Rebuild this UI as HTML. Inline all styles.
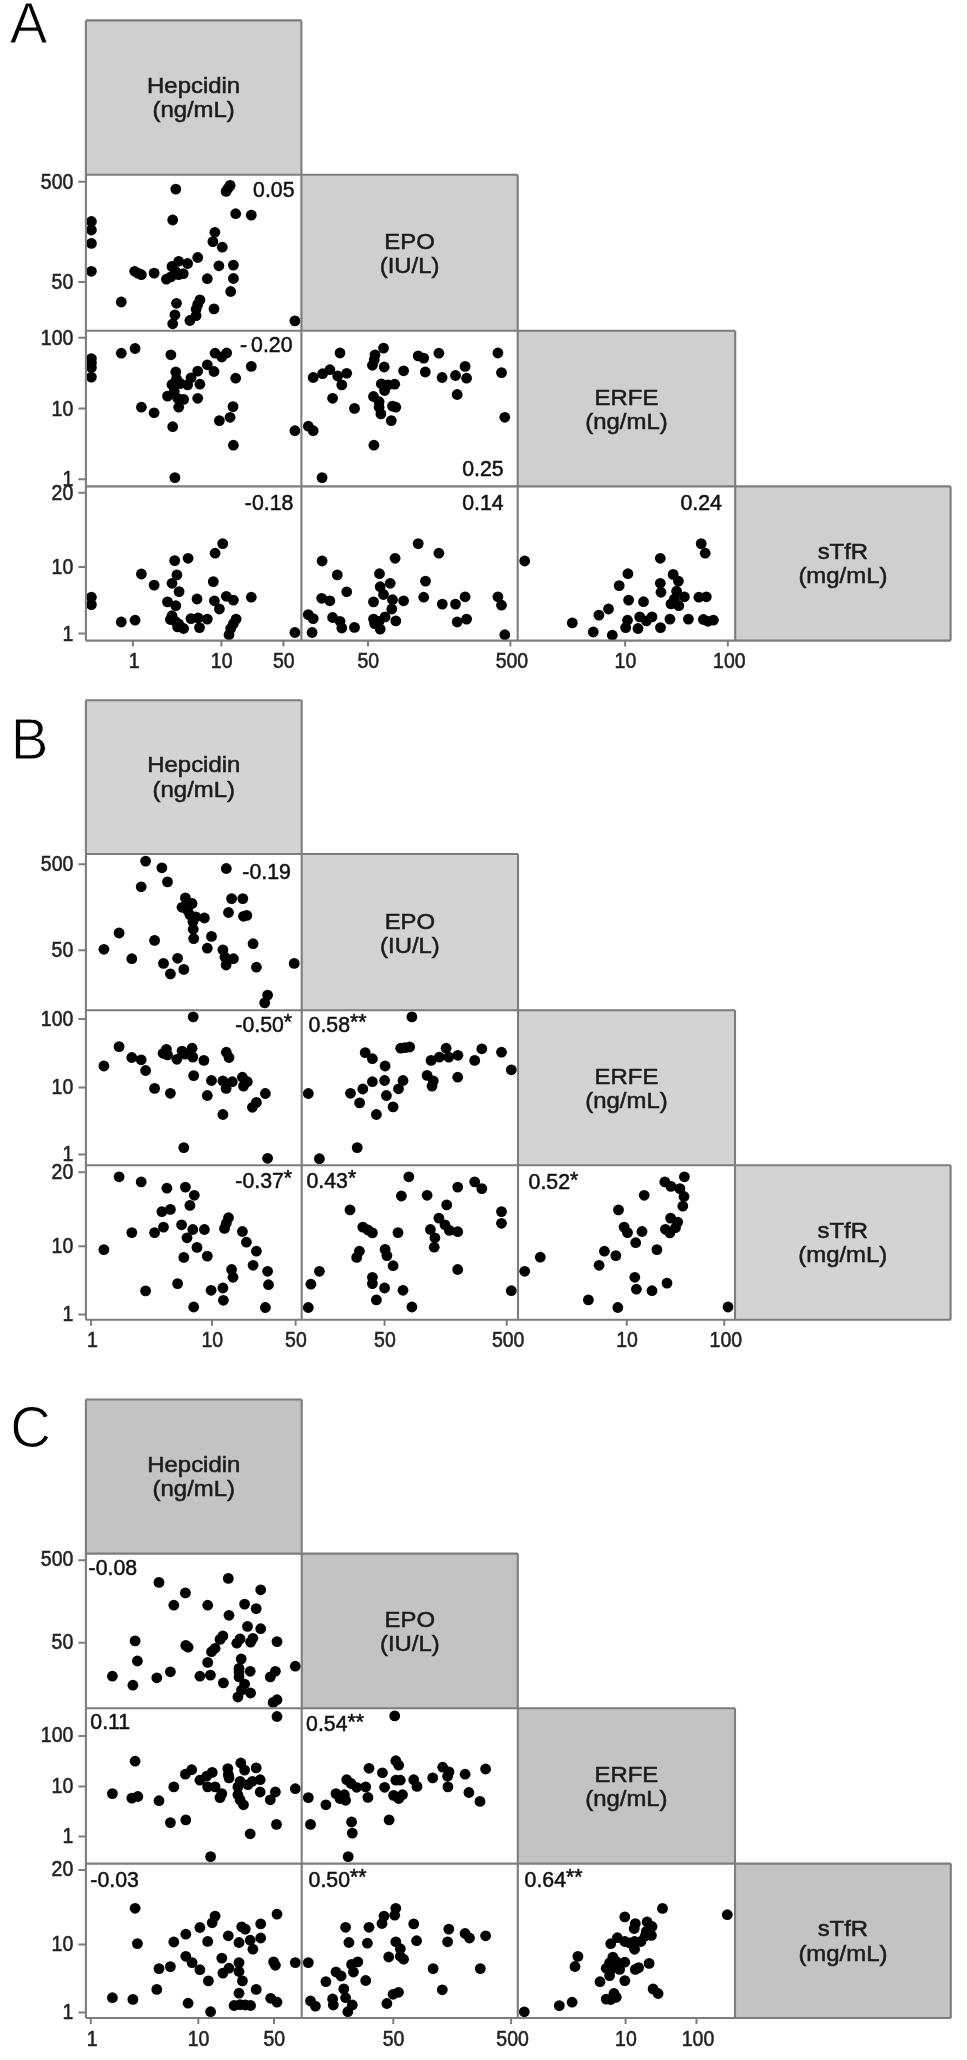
<!DOCTYPE html>
<html lang="en"><head><meta charset="utf-8"><title>Figure</title>
<style>
html,body{margin:0;padding:0;background:#fff}
svg{display:block}
text{font-family:"Liberation Sans",Arial,sans-serif;fill:#222}
.ax{font-size:19.5px;stroke:#222;stroke-width:.5px}
.cr{font-size:21.3px;fill:#111;stroke:#111;stroke-width:.5px}
.nm{font-size:23px;text-anchor:middle;fill:#1c1c1c;stroke:#1c1c1c;stroke-width:.55px}
.lt{font-size:56.5px;fill:#000;stroke:#fff;stroke-width:.9px}
.ln{stroke:#7d7d7d;stroke-width:2.1;fill:none}
.tk{stroke:#7d7d7d;stroke-width:2;fill:none}
circle{fill:#000}
</style></head>
<body>
<svg width="967" height="2060" viewBox="0 0 967 2060">
<defs><filter id="soft" x="0" y="0" width="100%" height="100%" filterUnits="userSpaceOnUse" color-interpolation-filters="sRGB"><feGaussianBlur stdDeviation="0.7"/></filter></defs>
<rect width="967" height="2060" fill="#fff"/>
<g filter="url(#soft)">
<g id="panelA">
<g><circle cx="175.8" cy="189.1" r="5.4"/><circle cx="230.1" cy="185.4" r="5.4"/><circle cx="228.1" cy="188.3" r="5.4"/><circle cx="226.1" cy="191.4" r="5.4"/><circle cx="235.7" cy="213.7" r="5.4"/><circle cx="251.3" cy="215.1" r="5.4"/><circle cx="172.7" cy="220.0" r="5.4"/><circle cx="91.4" cy="221.5" r="5.4"/><circle cx="91.4" cy="230.0" r="5.4"/><circle cx="91.4" cy="243.4" r="5.4"/><circle cx="91.4" cy="271.3" r="5.4"/><circle cx="214.9" cy="232.3" r="5.4"/><circle cx="212.9" cy="241.6" r="5.4"/><circle cx="222.3" cy="247.2" r="5.4"/><circle cx="197.7" cy="257.5" r="5.4"/><circle cx="178.7" cy="261.3" r="5.4"/><circle cx="187.6" cy="263.5" r="5.4"/><circle cx="172.0" cy="266.4" r="5.4"/><circle cx="175.3" cy="271.3" r="5.4"/><circle cx="183.2" cy="273.6" r="5.4"/><circle cx="166.4" cy="279.2" r="5.4"/><circle cx="170.9" cy="276.9" r="5.4"/><circle cx="178.7" cy="274.7" r="5.4"/><circle cx="218.9" cy="265.8" r="5.4"/><circle cx="233.4" cy="265.1" r="5.4"/><circle cx="233.4" cy="278.5" r="5.4"/><circle cx="207.3" cy="278.7" r="5.4"/><circle cx="134.7" cy="271.3" r="5.4"/><circle cx="137.8" cy="273.1" r="5.4"/><circle cx="141.4" cy="274.7" r="5.4"/><circle cx="154.1" cy="273.1" r="5.4"/><circle cx="230.7" cy="291.5" r="5.4"/><circle cx="121.3" cy="302.0" r="5.4"/><circle cx="176.5" cy="303.3" r="5.4"/><circle cx="199.9" cy="299.9" r="5.4"/><circle cx="197.7" cy="304.4" r="5.4"/><circle cx="196.1" cy="309.3" r="5.4"/><circle cx="196.1" cy="315.6" r="5.4"/><circle cx="189.9" cy="320.5" r="5.4"/><circle cx="214.0" cy="308.9" r="5.4"/><circle cx="174.9" cy="314.9" r="5.4"/><circle cx="172.7" cy="323.8" r="5.4"/><circle cx="294.9" cy="320.9" r="5.4"/></g>
<g><circle cx="91.4" cy="358.6" r="5.4"/><circle cx="91.4" cy="363.0" r="5.4"/><circle cx="91.4" cy="367.5" r="5.4"/><circle cx="91.4" cy="377.1" r="5.4"/><circle cx="121.3" cy="353.2" r="5.4"/><circle cx="135.1" cy="348.5" r="5.4"/><circle cx="170.9" cy="354.8" r="5.4"/><circle cx="215.1" cy="353.2" r="5.4"/><circle cx="226.7" cy="353.0" r="5.4"/><circle cx="221.8" cy="357.0" r="5.4"/><circle cx="207.3" cy="364.8" r="5.4"/><circle cx="214.0" cy="371.5" r="5.4"/><circle cx="251.3" cy="366.4" r="5.4"/><circle cx="235.7" cy="378.2" r="5.4"/><circle cx="175.8" cy="372.0" r="5.4"/><circle cx="176.5" cy="378.7" r="5.4"/><circle cx="172.0" cy="384.5" r="5.4"/><circle cx="174.2" cy="391.2" r="5.4"/><circle cx="167.5" cy="396.1" r="5.4"/><circle cx="177.6" cy="398.3" r="5.4"/><circle cx="183.6" cy="399.4" r="5.4"/><circle cx="178.7" cy="407.2" r="5.4"/><circle cx="197.7" cy="371.1" r="5.4"/><circle cx="191.0" cy="377.8" r="5.4"/><circle cx="187.6" cy="384.9" r="5.4"/><circle cx="199.9" cy="384.2" r="5.4"/><circle cx="197.7" cy="398.3" r="5.4"/><circle cx="141.4" cy="407.2" r="5.4"/><circle cx="154.1" cy="412.8" r="5.4"/><circle cx="233.0" cy="406.6" r="5.4"/><circle cx="230.1" cy="417.3" r="5.4"/><circle cx="219.4" cy="420.6" r="5.4"/><circle cx="172.7" cy="426.7" r="5.4"/><circle cx="294.9" cy="430.7" r="5.4"/><circle cx="233.4" cy="445.2" r="5.4"/><circle cx="174.9" cy="477.6" r="5.4"/><circle cx="180.3" cy="383.5" r="5.4"/></g>
<g><circle cx="340.0" cy="353.0" r="5.4"/><circle cx="383.5" cy="348.1" r="5.4"/><circle cx="375.0" cy="354.8" r="5.4"/><circle cx="372.4" cy="365.3" r="5.4"/><circle cx="384.2" cy="367.0" r="5.4"/><circle cx="418.2" cy="355.9" r="5.4"/><circle cx="423.7" cy="358.1" r="5.4"/><circle cx="438.9" cy="353.2" r="5.4"/><circle cx="497.9" cy="353.0" r="5.4"/><circle cx="501.5" cy="372.6" r="5.4"/><circle cx="465.1" cy="366.4" r="5.4"/><circle cx="466.6" cy="378.2" r="5.4"/><circle cx="455.5" cy="375.5" r="5.4"/><circle cx="442.1" cy="377.5" r="5.4"/><circle cx="425.3" cy="372.0" r="5.4"/><circle cx="403.6" cy="370.8" r="5.4"/><circle cx="313.2" cy="377.5" r="5.4"/><circle cx="322.6" cy="373.7" r="5.4"/><circle cx="329.9" cy="369.7" r="5.4"/><circle cx="337.7" cy="376.0" r="5.4"/><circle cx="346.7" cy="373.3" r="5.4"/><circle cx="341.8" cy="384.9" r="5.4"/><circle cx="381.3" cy="383.8" r="5.4"/><circle cx="388.0" cy="384.9" r="5.4"/><circle cx="394.7" cy="384.2" r="5.4"/><circle cx="384.6" cy="390.5" r="5.4"/><circle cx="373.5" cy="396.5" r="5.4"/><circle cx="379.1" cy="401.7" r="5.4"/><circle cx="379.1" cy="407.2" r="5.4"/><circle cx="380.9" cy="413.9" r="5.4"/><circle cx="392.5" cy="406.1" r="5.4"/><circle cx="395.8" cy="407.2" r="5.4"/><circle cx="391.3" cy="420.6" r="5.4"/><circle cx="332.6" cy="398.3" r="5.4"/><circle cx="354.5" cy="408.4" r="5.4"/><circle cx="457.2" cy="394.5" r="5.4"/><circle cx="504.8" cy="417.3" r="5.4"/><circle cx="308.3" cy="426.2" r="5.4"/><circle cx="313.2" cy="430.7" r="5.4"/><circle cx="373.9" cy="445.2" r="5.4"/><circle cx="322.1" cy="477.6" r="5.4"/><circle cx="374.2" cy="359.9" r="5.4"/></g>
<g><circle cx="222.7" cy="543.6" r="5.4"/><circle cx="215.1" cy="553.2" r="5.4"/><circle cx="188.1" cy="558.3" r="5.4"/><circle cx="174.7" cy="560.6" r="5.4"/><circle cx="141.4" cy="574.0" r="5.4"/><circle cx="154.1" cy="585.1" r="5.4"/><circle cx="176.9" cy="574.9" r="5.4"/><circle cx="172.0" cy="583.3" r="5.4"/><circle cx="179.1" cy="591.6" r="5.4"/><circle cx="213.3" cy="581.6" r="5.4"/><circle cx="91.4" cy="597.2" r="5.4"/><circle cx="91.4" cy="604.6" r="5.4"/><circle cx="251.3" cy="597.2" r="5.4"/><circle cx="226.3" cy="596.3" r="5.4"/><circle cx="233.4" cy="600.1" r="5.4"/><circle cx="197.0" cy="599.0" r="5.4"/><circle cx="214.4" cy="600.8" r="5.4"/><circle cx="219.4" cy="609.0" r="5.4"/><circle cx="167.5" cy="601.9" r="5.4"/><circle cx="175.8" cy="605.7" r="5.4"/><circle cx="172.0" cy="615.7" r="5.4"/><circle cx="170.4" cy="619.5" r="5.4"/><circle cx="175.3" cy="621.3" r="5.4"/><circle cx="178.7" cy="624.0" r="5.4"/><circle cx="183.6" cy="628.5" r="5.4"/><circle cx="177.6" cy="626.9" r="5.4"/><circle cx="191.0" cy="618.6" r="5.4"/><circle cx="198.1" cy="618.0" r="5.4"/><circle cx="207.3" cy="619.1" r="5.4"/><circle cx="199.5" cy="627.6" r="5.4"/><circle cx="236.1" cy="619.1" r="5.4"/><circle cx="233.4" cy="623.6" r="5.4"/><circle cx="230.7" cy="628.5" r="5.4"/><circle cx="229.0" cy="634.7" r="5.4"/><circle cx="121.3" cy="622.0" r="5.4"/><circle cx="135.1" cy="620.2" r="5.4"/><circle cx="294.9" cy="632.5" r="5.4"/></g>
<g><circle cx="418.2" cy="543.6" r="5.4"/><circle cx="438.9" cy="553.2" r="5.4"/><circle cx="395.1" cy="558.3" r="5.4"/><circle cx="322.1" cy="561.0" r="5.4"/><circle cx="337.3" cy="574.9" r="5.4"/><circle cx="379.5" cy="573.7" r="5.4"/><circle cx="390.2" cy="583.3" r="5.4"/><circle cx="380.2" cy="586.7" r="5.4"/><circle cx="383.5" cy="594.5" r="5.4"/><circle cx="425.5" cy="581.1" r="5.4"/><circle cx="423.7" cy="597.2" r="5.4"/><circle cx="346.7" cy="591.8" r="5.4"/><circle cx="321.7" cy="598.3" r="5.4"/><circle cx="329.9" cy="600.8" r="5.4"/><circle cx="373.5" cy="601.9" r="5.4"/><circle cx="392.5" cy="599.7" r="5.4"/><circle cx="403.6" cy="600.8" r="5.4"/><circle cx="391.8" cy="609.0" r="5.4"/><circle cx="465.1" cy="596.8" r="5.4"/><circle cx="455.5" cy="604.1" r="5.4"/><circle cx="442.3" cy="604.1" r="5.4"/><circle cx="497.9" cy="596.8" r="5.4"/><circle cx="501.5" cy="605.2" r="5.4"/><circle cx="308.3" cy="614.6" r="5.4"/><circle cx="313.2" cy="618.6" r="5.4"/><circle cx="332.6" cy="617.5" r="5.4"/><circle cx="340.0" cy="621.3" r="5.4"/><circle cx="341.8" cy="628.0" r="5.4"/><circle cx="354.5" cy="627.4" r="5.4"/><circle cx="373.5" cy="619.1" r="5.4"/><circle cx="379.1" cy="621.3" r="5.4"/><circle cx="385.1" cy="616.9" r="5.4"/><circle cx="380.2" cy="629.1" r="5.4"/><circle cx="374.6" cy="623.6" r="5.4"/><circle cx="395.8" cy="620.9" r="5.4"/><circle cx="466.6" cy="619.1" r="5.4"/><circle cx="457.2" cy="622.0" r="5.4"/><circle cx="312.1" cy="632.5" r="5.4"/><circle cx="504.8" cy="634.7" r="5.4"/></g>
<g><circle cx="701.2" cy="543.6" r="5.4"/><circle cx="705.2" cy="553.2" r="5.4"/><circle cx="660.3" cy="558.3" r="5.4"/><circle cx="524.7" cy="561.0" r="5.4"/><circle cx="627.9" cy="573.7" r="5.4"/><circle cx="619.2" cy="585.6" r="5.4"/><circle cx="673.2" cy="574.4" r="5.4"/><circle cx="678.4" cy="581.1" r="5.4"/><circle cx="660.3" cy="583.3" r="5.4"/><circle cx="661.0" cy="592.3" r="5.4"/><circle cx="676.6" cy="591.2" r="5.4"/><circle cx="684.4" cy="596.8" r="5.4"/><circle cx="674.4" cy="599.0" r="5.4"/><circle cx="671.0" cy="603.9" r="5.4"/><circle cx="678.8" cy="605.7" r="5.4"/><circle cx="698.9" cy="597.2" r="5.4"/><circle cx="706.3" cy="596.8" r="5.4"/><circle cx="628.6" cy="600.1" r="5.4"/><circle cx="643.5" cy="601.7" r="5.4"/><circle cx="608.5" cy="609.0" r="5.4"/><circle cx="598.9" cy="615.1" r="5.4"/><circle cx="572.3" cy="622.9" r="5.4"/><circle cx="627.5" cy="620.2" r="5.4"/><circle cx="625.7" cy="627.6" r="5.4"/><circle cx="639.7" cy="616.9" r="5.4"/><circle cx="646.4" cy="620.9" r="5.4"/><circle cx="652.0" cy="616.9" r="5.4"/><circle cx="638.0" cy="628.5" r="5.4"/><circle cx="669.9" cy="619.1" r="5.4"/><circle cx="660.5" cy="627.6" r="5.4"/><circle cx="688.4" cy="619.1" r="5.4"/><circle cx="703.4" cy="619.5" r="5.4"/><circle cx="707.9" cy="621.3" r="5.4"/><circle cx="713.4" cy="620.2" r="5.4"/><circle cx="593.3" cy="632.0" r="5.4"/><circle cx="612.3" cy="635.2" r="5.4"/></g>
<rect x="85.9" y="20.4" width="215.5" height="154.3" fill="#cfcfcf"/>
<rect x="301.4" y="174.7" width="216.3" height="156.0" fill="#cfcfcf"/>
<rect x="517.7" y="330.7" width="217.5" height="155.7" fill="#cfcfcf"/>
<rect x="735.2" y="486.4" width="215.4" height="154.2" fill="#cfcfcf"/>
<path class="ln" d="M85.9 20.4V640.6M85.9 640.6H950.6M85.9 20.4H301.4M301.4 20.4V640.6M85.9 174.7H517.7M517.7 174.7V640.6M85.9 330.7H735.2M735.2 330.7V640.6M85.9 486.4H950.6M950.6 486.4V640.6"/>
<path class="tk" d="M78.4 181.7H85.9M78.4 281.9H85.9M78.4 337.8H85.9M78.4 408.5H85.9M78.4 479.2H85.9M78.4 492.8H85.9M78.4 566.9H85.9M78.4 633.6H85.9M132.9 640.6V646.6M221.4 640.6V646.6M283.5 640.6V646.6M368.0 640.6V646.6M510.4 640.6V646.6M625.1 640.6V646.6M727.8 640.6V646.6"/>
<text class="ax" transform="translate(73.3 188.7) scale(1 1.14)" text-anchor="end">500</text>
<text class="ax" transform="translate(73.3 288.9) scale(1 1.14)" text-anchor="end">50</text>
<text class="ax" transform="translate(73.3 344.8) scale(1 1.14)" text-anchor="end">100</text>
<text class="ax" transform="translate(73.3 415.5) scale(1 1.14)" text-anchor="end">10</text>
<text class="ax" transform="translate(73.3 486.2) scale(1 1.14)" text-anchor="end">1</text>
<text class="ax" transform="translate(73.3 499.8) scale(1 1.14)" text-anchor="end">20</text>
<text class="ax" transform="translate(73.3 573.9) scale(1 1.14)" text-anchor="end">10</text>
<text class="ax" transform="translate(73.3 640.6) scale(1 1.14)" text-anchor="end">1</text>
<text class="ax" transform="translate(134.2 667.5) scale(1 1.14)" text-anchor="middle">1</text>
<text class="ax" transform="translate(221.7 667.5) scale(1 1.14)" text-anchor="middle">10</text>
<text class="ax" transform="translate(283.8 667.5) scale(1 1.14)" text-anchor="middle">50</text>
<text class="ax" transform="translate(368.3 667.5) scale(1 1.14)" text-anchor="middle">50</text>
<text class="ax" transform="translate(511.9 667.5) scale(1 1.14)" text-anchor="middle">500</text>
<text class="ax" transform="translate(625.4 667.5) scale(1 1.14)" text-anchor="middle">10</text>
<text class="ax" transform="translate(729.3 667.5) scale(1 1.14)" text-anchor="middle">100</text>
<text class="nm" transform="translate(193.6 93.0) scale(1.04 0.985)">Hepcidin</text>
<text class="nm" transform="translate(193.6 117.3) scale(1.04 0.985)">(ng/mL)</text>
<text class="nm" transform="translate(409.6 249.0) scale(1.04 0.985)">EPO</text>
<text class="nm" transform="translate(409.6 273.3) scale(1.04 0.985)">(IU/L)</text>
<text class="nm" transform="translate(626.5 404.7) scale(1.04 0.985)">ERFE</text>
<text class="nm" transform="translate(626.5 429.0) scale(1.04 0.985)">(ng/mL)</text>
<text class="nm" transform="translate(842.9 558.9) scale(1.04 0.985)">sTfR</text>
<text class="nm" transform="translate(842.9 583.2) scale(1.04 0.985)">(mg/mL)</text>
<text class="cr" transform="translate(253.1 196.5) scale(1 1.03)" text-anchor="start">0.05</text>
<text class="cr" transform="translate(240.0 352.4) scale(1 1.03)" text-anchor="start">-</text>
<text class="cr" transform="translate(251.1 352.4) scale(1 1.03)" text-anchor="start">0.20</text>
<text class="cr" transform="translate(462.2 476.0) scale(1 1.03)" text-anchor="start">0.25</text>
<text class="cr" transform="translate(244.8 509.7) scale(1 1.03)" text-anchor="start">-0.18</text>
<text class="cr" transform="translate(462.2 510.0) scale(1 1.03)" text-anchor="start">0.14</text>
<text class="cr" transform="translate(680.4 509.7) scale(1 1.03)" text-anchor="start">0.24</text>
<text class="lt" x="9.8" y="43.2">A</text>
</g>
<g id="panelB">
<g><circle cx="145.6" cy="861.1" r="5.4"/><circle cx="161.9" cy="867.8" r="5.4"/><circle cx="167.5" cy="881.9" r="5.4"/><circle cx="141.2" cy="886.8" r="5.4"/><circle cx="226.3" cy="868.5" r="5.4"/><circle cx="231.6" cy="898.6" r="5.4"/><circle cx="242.8" cy="898.6" r="5.4"/><circle cx="228.5" cy="912.5" r="5.4"/><circle cx="243.5" cy="916.3" r="5.4"/><circle cx="246.8" cy="915.4" r="5.4"/><circle cx="185.4" cy="897.9" r="5.4"/><circle cx="192.1" cy="903.5" r="5.4"/><circle cx="182.0" cy="907.3" r="5.4"/><circle cx="187.6" cy="910.2" r="5.4"/><circle cx="189.9" cy="914.7" r="5.4"/><circle cx="195.9" cy="916.9" r="5.4"/><circle cx="204.4" cy="918.0" r="5.4"/><circle cx="193.2" cy="929.2" r="5.4"/><circle cx="193.7" cy="938.6" r="5.4"/><circle cx="211.5" cy="936.4" r="5.4"/><circle cx="207.3" cy="948.2" r="5.4"/><circle cx="222.9" cy="949.8" r="5.4"/><circle cx="224.9" cy="957.1" r="5.4"/><circle cx="233.4" cy="958.7" r="5.4"/><circle cx="226.1" cy="965.0" r="5.4"/><circle cx="253.1" cy="943.7" r="5.4"/><circle cx="256.4" cy="967.2" r="5.4"/><circle cx="294.2" cy="963.4" r="5.4"/><circle cx="119.1" cy="933.0" r="5.4"/><circle cx="103.9" cy="949.3" r="5.4"/><circle cx="131.8" cy="958.7" r="5.4"/><circle cx="154.6" cy="940.4" r="5.4"/><circle cx="177.6" cy="958.3" r="5.4"/><circle cx="163.5" cy="963.4" r="5.4"/><circle cx="183.8" cy="969.4" r="5.4"/><circle cx="170.4" cy="973.9" r="5.4"/><circle cx="267.6" cy="995.1" r="5.4"/><circle cx="264.7" cy="1002.9" r="5.4"/><circle cx="186.7" cy="907.9" r="5.4"/><circle cx="192.9" cy="921.6" r="5.4"/></g>
<g><circle cx="193.2" cy="1016.9" r="5.4"/><circle cx="119.1" cy="1046.6" r="5.4"/><circle cx="103.9" cy="1066.0" r="5.4"/><circle cx="131.8" cy="1057.5" r="5.4"/><circle cx="141.2" cy="1059.8" r="5.4"/><circle cx="145.6" cy="1070.5" r="5.4"/><circle cx="166.4" cy="1049.3" r="5.4"/><circle cx="163.1" cy="1053.3" r="5.4"/><circle cx="167.5" cy="1054.9" r="5.4"/><circle cx="176.9" cy="1059.3" r="5.4"/><circle cx="182.0" cy="1051.1" r="5.4"/><circle cx="185.4" cy="1054.2" r="5.4"/><circle cx="192.1" cy="1048.2" r="5.4"/><circle cx="192.8" cy="1057.1" r="5.4"/><circle cx="203.9" cy="1060.4" r="5.4"/><circle cx="226.3" cy="1052.2" r="5.4"/><circle cx="229.0" cy="1057.5" r="5.4"/><circle cx="193.7" cy="1075.6" r="5.4"/><circle cx="211.5" cy="1080.5" r="5.4"/><circle cx="222.9" cy="1081.0" r="5.4"/><circle cx="226.1" cy="1088.4" r="5.4"/><circle cx="232.3" cy="1081.7" r="5.4"/><circle cx="242.4" cy="1077.2" r="5.4"/><circle cx="247.3" cy="1081.7" r="5.4"/><circle cx="243.5" cy="1086.1" r="5.4"/><circle cx="154.6" cy="1088.4" r="5.4"/><circle cx="170.4" cy="1093.3" r="5.4"/><circle cx="207.3" cy="1095.5" r="5.4"/><circle cx="265.4" cy="1093.5" r="5.4"/><circle cx="256.4" cy="1102.4" r="5.4"/><circle cx="252.4" cy="1107.3" r="5.4"/><circle cx="222.9" cy="1114.5" r="5.4"/><circle cx="183.8" cy="1147.6" r="5.4"/><circle cx="267.6" cy="1158.3" r="5.4"/></g>
<g><circle cx="411.9" cy="1016.9" r="5.4"/><circle cx="400.7" cy="1048.2" r="5.4"/><circle cx="405.2" cy="1047.7" r="5.4"/><circle cx="409.7" cy="1047.0" r="5.4"/><circle cx="365.2" cy="1052.6" r="5.4"/><circle cx="372.4" cy="1058.7" r="5.4"/><circle cx="385.1" cy="1066.0" r="5.4"/><circle cx="446.1" cy="1048.2" r="5.4"/><circle cx="439.4" cy="1057.1" r="5.4"/><circle cx="431.1" cy="1060.4" r="5.4"/><circle cx="448.8" cy="1057.1" r="5.4"/><circle cx="457.9" cy="1055.3" r="5.4"/><circle cx="481.8" cy="1048.8" r="5.4"/><circle cx="474.7" cy="1060.4" r="5.4"/><circle cx="501.5" cy="1052.2" r="5.4"/><circle cx="511.3" cy="1069.8" r="5.4"/><circle cx="457.7" cy="1077.2" r="5.4"/><circle cx="427.1" cy="1075.4" r="5.4"/><circle cx="433.3" cy="1081.0" r="5.4"/><circle cx="432.0" cy="1086.1" r="5.4"/><circle cx="403.0" cy="1080.5" r="5.4"/><circle cx="398.5" cy="1088.8" r="5.4"/><circle cx="384.6" cy="1080.5" r="5.4"/><circle cx="372.4" cy="1081.7" r="5.4"/><circle cx="362.8" cy="1089.0" r="5.4"/><circle cx="350.5" cy="1093.3" r="5.4"/><circle cx="359.6" cy="1102.9" r="5.4"/><circle cx="386.4" cy="1095.5" r="5.4"/><circle cx="393.1" cy="1106.9" r="5.4"/><circle cx="376.4" cy="1114.5" r="5.4"/><circle cx="308.3" cy="1093.5" r="5.4"/><circle cx="357.2" cy="1147.6" r="5.4"/><circle cx="319.4" cy="1158.7" r="5.4"/></g>
<g><circle cx="119.1" cy="1176.8" r="5.4"/><circle cx="141.2" cy="1181.9" r="5.4"/><circle cx="166.9" cy="1188.2" r="5.4"/><circle cx="185.4" cy="1187.1" r="5.4"/><circle cx="194.3" cy="1195.3" r="5.4"/><circle cx="189.9" cy="1205.4" r="5.4"/><circle cx="161.9" cy="1211.6" r="5.4"/><circle cx="170.4" cy="1209.4" r="5.4"/><circle cx="228.5" cy="1217.7" r="5.4"/><circle cx="226.3" cy="1223.3" r="5.4"/><circle cx="224.5" cy="1228.4" r="5.4"/><circle cx="181.6" cy="1224.8" r="5.4"/><circle cx="192.8" cy="1229.5" r="5.4"/><circle cx="204.4" cy="1229.5" r="5.4"/><circle cx="187.0" cy="1237.8" r="5.4"/><circle cx="163.5" cy="1227.1" r="5.4"/><circle cx="154.6" cy="1232.6" r="5.4"/><circle cx="131.8" cy="1232.6" r="5.4"/><circle cx="103.9" cy="1249.6" r="5.4"/><circle cx="242.4" cy="1231.5" r="5.4"/><circle cx="246.4" cy="1242.2" r="5.4"/><circle cx="256.4" cy="1251.2" r="5.4"/><circle cx="197.0" cy="1247.4" r="5.4"/><circle cx="207.3" cy="1256.1" r="5.4"/><circle cx="183.8" cy="1257.4" r="5.4"/><circle cx="253.1" cy="1265.3" r="5.4"/><circle cx="267.6" cy="1271.3" r="5.4"/><circle cx="268.5" cy="1284.7" r="5.4"/><circle cx="231.6" cy="1269.5" r="5.4"/><circle cx="233.0" cy="1277.3" r="5.4"/><circle cx="222.9" cy="1288.0" r="5.4"/><circle cx="211.1" cy="1290.3" r="5.4"/><circle cx="223.4" cy="1300.3" r="5.4"/><circle cx="177.6" cy="1283.6" r="5.4"/><circle cx="145.6" cy="1290.9" r="5.4"/><circle cx="193.7" cy="1307.0" r="5.4"/><circle cx="265.4" cy="1307.5" r="5.4"/></g>
<g><circle cx="408.8" cy="1176.8" r="5.4"/><circle cx="401.4" cy="1196.0" r="5.4"/><circle cx="427.1" cy="1195.3" r="5.4"/><circle cx="457.7" cy="1187.1" r="5.4"/><circle cx="474.7" cy="1181.9" r="5.4"/><circle cx="481.8" cy="1188.6" r="5.4"/><circle cx="446.7" cy="1204.9" r="5.4"/><circle cx="501.5" cy="1211.6" r="5.4"/><circle cx="501.5" cy="1223.3" r="5.4"/><circle cx="350.0" cy="1209.9" r="5.4"/><circle cx="438.9" cy="1218.1" r="5.4"/><circle cx="445.0" cy="1224.8" r="5.4"/><circle cx="449.4" cy="1230.4" r="5.4"/><circle cx="457.7" cy="1231.7" r="5.4"/><circle cx="430.4" cy="1229.5" r="5.4"/><circle cx="434.9" cy="1237.8" r="5.4"/><circle cx="434.2" cy="1247.2" r="5.4"/><circle cx="362.8" cy="1227.1" r="5.4"/><circle cx="367.9" cy="1230.0" r="5.4"/><circle cx="372.4" cy="1232.9" r="5.4"/><circle cx="398.0" cy="1232.6" r="5.4"/><circle cx="385.1" cy="1249.4" r="5.4"/><circle cx="386.9" cy="1255.6" r="5.4"/><circle cx="393.1" cy="1265.7" r="5.4"/><circle cx="359.4" cy="1251.2" r="5.4"/><circle cx="356.7" cy="1257.4" r="5.4"/><circle cx="457.7" cy="1269.5" r="5.4"/><circle cx="319.4" cy="1271.3" r="5.4"/><circle cx="310.9" cy="1284.2" r="5.4"/><circle cx="372.4" cy="1277.3" r="5.4"/><circle cx="372.4" cy="1283.6" r="5.4"/><circle cx="384.6" cy="1288.0" r="5.4"/><circle cx="376.4" cy="1299.9" r="5.4"/><circle cx="403.0" cy="1290.3" r="5.4"/><circle cx="411.9" cy="1307.0" r="5.4"/><circle cx="308.3" cy="1307.5" r="5.4"/><circle cx="511.3" cy="1290.7" r="5.4"/></g>
<g><circle cx="684.4" cy="1176.8" r="5.4"/><circle cx="664.8" cy="1181.9" r="5.4"/><circle cx="671.0" cy="1186.4" r="5.4"/><circle cx="679.9" cy="1188.6" r="5.4"/><circle cx="684.0" cy="1196.5" r="5.4"/><circle cx="682.8" cy="1206.1" r="5.4"/><circle cx="644.2" cy="1195.3" r="5.4"/><circle cx="618.5" cy="1209.9" r="5.4"/><circle cx="670.6" cy="1218.1" r="5.4"/><circle cx="677.7" cy="1222.1" r="5.4"/><circle cx="675.5" cy="1227.7" r="5.4"/><circle cx="665.4" cy="1229.3" r="5.4"/><circle cx="669.9" cy="1232.9" r="5.4"/><circle cx="624.1" cy="1227.1" r="5.4"/><circle cx="627.5" cy="1232.6" r="5.4"/><circle cx="642.0" cy="1231.5" r="5.4"/><circle cx="635.7" cy="1242.7" r="5.4"/><circle cx="656.9" cy="1249.6" r="5.4"/><circle cx="604.4" cy="1251.2" r="5.4"/><circle cx="615.8" cy="1255.6" r="5.4"/><circle cx="599.1" cy="1265.3" r="5.4"/><circle cx="540.3" cy="1257.2" r="5.4"/><circle cx="524.7" cy="1271.3" r="5.4"/><circle cx="634.8" cy="1277.3" r="5.4"/><circle cx="636.4" cy="1289.2" r="5.4"/><circle cx="667.0" cy="1283.1" r="5.4"/><circle cx="652.0" cy="1290.7" r="5.4"/><circle cx="588.4" cy="1299.9" r="5.4"/><circle cx="617.8" cy="1307.5" r="5.4"/><circle cx="728.0" cy="1307.0" r="5.4"/></g>
<rect x="85.9" y="700.2" width="215.8" height="153.8" fill="#d3d3d3"/>
<rect x="301.7" y="854.0" width="216.3" height="156.2" fill="#d3d3d3"/>
<rect x="518.0" y="1010.2" width="217.0" height="155.0" fill="#d3d3d3"/>
<rect x="735.0" y="1165.2" width="215.6" height="154.5" fill="#d3d3d3"/>
<path class="ln" d="M85.9 700.2V1319.7M85.9 1319.7H950.6M85.9 700.2H301.7M301.7 700.2V1319.7M85.9 854.0H518.0M518.0 854.0V1319.7M85.9 1010.2H735.0M735.0 1010.2V1319.7M85.9 1165.2H950.6M950.6 1165.2V1319.7"/>
<path class="tk" d="M78.4 864.3H85.9M78.4 950.2H85.9M78.4 1019.0H85.9M78.4 1087.4H85.9M78.4 1154.6H85.9M78.4 1172.2H85.9M78.4 1246.3H85.9M78.4 1314.5H85.9M91.0 1319.7V1325.7M212.0 1319.7V1325.7M295.6 1319.7V1325.7M384.6 1319.7V1325.7M506.7 1319.7V1325.7M626.8 1319.7V1325.7M724.3 1319.7V1325.7"/>
<text class="ax" transform="translate(73.3 870.9) scale(1 1.14)" text-anchor="end">500</text>
<text class="ax" transform="translate(73.3 956.8) scale(1 1.14)" text-anchor="end">50</text>
<text class="ax" transform="translate(73.3 1025.6) scale(1 1.14)" text-anchor="end">100</text>
<text class="ax" transform="translate(73.3 1094.0) scale(1 1.14)" text-anchor="end">10</text>
<text class="ax" transform="translate(73.3 1161.2) scale(1 1.14)" text-anchor="end">1</text>
<text class="ax" transform="translate(73.3 1178.8) scale(1 1.14)" text-anchor="end">20</text>
<text class="ax" transform="translate(73.3 1252.9) scale(1 1.14)" text-anchor="end">10</text>
<text class="ax" transform="translate(73.3 1321.1) scale(1 1.14)" text-anchor="end">1</text>
<text class="ax" transform="translate(92.3 1346.7) scale(1 1.14)" text-anchor="middle">1</text>
<text class="ax" transform="translate(212.3 1346.7) scale(1 1.14)" text-anchor="middle">10</text>
<text class="ax" transform="translate(295.9 1346.7) scale(1 1.14)" text-anchor="middle">50</text>
<text class="ax" transform="translate(384.9 1346.7) scale(1 1.14)" text-anchor="middle">50</text>
<text class="ax" transform="translate(508.2 1346.7) scale(1 1.14)" text-anchor="middle">500</text>
<text class="ax" transform="translate(627.1 1346.7) scale(1 1.14)" text-anchor="middle">10</text>
<text class="ax" transform="translate(725.8 1346.7) scale(1 1.14)" text-anchor="middle">100</text>
<text class="nm" transform="translate(193.8 772.3) scale(1.04 0.985)">Hepcidin</text>
<text class="nm" transform="translate(193.8 796.6) scale(1.04 0.985)">(ng/mL)</text>
<text class="nm" transform="translate(409.9 928.5) scale(1.04 0.985)">EPO</text>
<text class="nm" transform="translate(409.9 952.8) scale(1.04 0.985)">(IU/L)</text>
<text class="nm" transform="translate(626.5 1083.5) scale(1.04 0.985)">ERFE</text>
<text class="nm" transform="translate(626.5 1107.8) scale(1.04 0.985)">(ng/mL)</text>
<text class="nm" transform="translate(842.8 1238.0) scale(1.04 0.985)">sTfR</text>
<text class="nm" transform="translate(842.8 1262.3) scale(1.04 0.985)">(mg/mL)</text>
<text class="cr" transform="translate(242.3 879.3) scale(1 1.03)" text-anchor="start">-0.19</text>
<text class="cr" transform="translate(235.3 1031.9) scale(1 1.03)" text-anchor="start">-0.50<tspan dy="-2.4">*</tspan></text>
<text class="cr" transform="translate(308.6 1031.9) scale(1 1.03)" text-anchor="start">0.58<tspan dy="-2.4">**</tspan></text>
<text class="cr" transform="translate(235.3 1187.7) scale(1 1.03)" text-anchor="start">-0.37<tspan dy="-2.4">*</tspan></text>
<text class="cr" transform="translate(306.5 1187.7) scale(1 1.03)" text-anchor="start">0.43<tspan dy="-2.4">*</tspan></text>
<text class="cr" transform="translate(528.6 1189.3) scale(1 1.03)" text-anchor="start">0.52<tspan dy="-2.4">*</tspan></text>
<text class="lt" x="10.8" y="758.5">B</text>
</g>
<g id="panelC">
<g><circle cx="159.0" cy="1582.4" r="5.4"/><circle cx="228.3" cy="1578.4" r="5.4"/><circle cx="260.7" cy="1589.8" r="5.4"/><circle cx="185.4" cy="1592.9" r="5.4"/><circle cx="173.8" cy="1605.2" r="5.4"/><circle cx="207.7" cy="1605.2" r="5.4"/><circle cx="244.6" cy="1604.1" r="5.4"/><circle cx="256.2" cy="1608.6" r="5.4"/><circle cx="229.0" cy="1615.3" r="5.4"/><circle cx="247.5" cy="1626.4" r="5.4"/><circle cx="260.7" cy="1628.7" r="5.4"/><circle cx="222.9" cy="1636.0" r="5.4"/><circle cx="220.0" cy="1639.4" r="5.4"/><circle cx="240.1" cy="1638.9" r="5.4"/><circle cx="236.8" cy="1643.2" r="5.4"/><circle cx="252.9" cy="1638.3" r="5.4"/><circle cx="250.6" cy="1642.1" r="5.4"/><circle cx="277.0" cy="1641.6" r="5.4"/><circle cx="135.1" cy="1640.9" r="5.4"/><circle cx="137.4" cy="1661.0" r="5.4"/><circle cx="185.8" cy="1645.4" r="5.4"/><circle cx="188.1" cy="1647.2" r="5.4"/><circle cx="215.1" cy="1648.3" r="5.4"/><circle cx="211.5" cy="1651.7" r="5.4"/><circle cx="207.7" cy="1662.4" r="5.4"/><circle cx="241.2" cy="1659.0" r="5.4"/><circle cx="239.0" cy="1668.4" r="5.4"/><circle cx="239.0" cy="1676.9" r="5.4"/><circle cx="250.2" cy="1671.3" r="5.4"/><circle cx="295.3" cy="1666.2" r="5.4"/><circle cx="275.4" cy="1671.3" r="5.4"/><circle cx="270.3" cy="1676.9" r="5.4"/><circle cx="170.4" cy="1671.8" r="5.4"/><circle cx="156.8" cy="1677.8" r="5.4"/><circle cx="199.9" cy="1676.2" r="5.4"/><circle cx="210.4" cy="1675.1" r="5.4"/><circle cx="112.4" cy="1676.2" r="5.4"/><circle cx="132.9" cy="1685.2" r="5.4"/><circle cx="223.4" cy="1682.9" r="5.4"/><circle cx="244.6" cy="1684.1" r="5.4"/><circle cx="250.6" cy="1693.0" r="5.4"/><circle cx="237.9" cy="1697.0" r="5.4"/><circle cx="277.0" cy="1699.7" r="5.4"/><circle cx="273.2" cy="1702.4" r="5.4"/><circle cx="239.0" cy="1672.1" r="5.4"/><circle cx="241.5" cy="1690.1" r="5.4"/></g>
<g><circle cx="277.0" cy="1716.5" r="5.4"/><circle cx="135.1" cy="1761.2" r="5.4"/><circle cx="240.8" cy="1763.0" r="5.4"/><circle cx="244.6" cy="1770.1" r="5.4"/><circle cx="256.2" cy="1767.9" r="5.4"/><circle cx="227.8" cy="1768.6" r="5.4"/><circle cx="229.0" cy="1777.9" r="5.4"/><circle cx="191.7" cy="1769.7" r="5.4"/><circle cx="185.4" cy="1774.2" r="5.4"/><circle cx="212.2" cy="1772.4" r="5.4"/><circle cx="206.6" cy="1776.2" r="5.4"/><circle cx="199.9" cy="1780.2" r="5.4"/><circle cx="207.7" cy="1786.9" r="5.4"/><circle cx="215.1" cy="1786.9" r="5.4"/><circle cx="221.8" cy="1793.6" r="5.4"/><circle cx="220.0" cy="1797.6" r="5.4"/><circle cx="240.1" cy="1781.3" r="5.4"/><circle cx="237.9" cy="1786.9" r="5.4"/><circle cx="237.9" cy="1794.7" r="5.4"/><circle cx="243.5" cy="1804.8" r="5.4"/><circle cx="252.4" cy="1781.3" r="5.4"/><circle cx="260.2" cy="1779.7" r="5.4"/><circle cx="247.9" cy="1784.6" r="5.4"/><circle cx="260.2" cy="1792.0" r="5.4"/><circle cx="275.4" cy="1792.0" r="5.4"/><circle cx="270.3" cy="1799.8" r="5.4"/><circle cx="295.3" cy="1788.7" r="5.4"/><circle cx="173.8" cy="1786.9" r="5.4"/><circle cx="112.4" cy="1793.6" r="5.4"/><circle cx="131.8" cy="1798.1" r="5.4"/><circle cx="137.8" cy="1796.5" r="5.4"/><circle cx="159.0" cy="1800.7" r="5.4"/><circle cx="170.4" cy="1822.6" r="5.4"/><circle cx="185.8" cy="1819.9" r="5.4"/><circle cx="250.2" cy="1833.8" r="5.4"/><circle cx="276.5" cy="1824.4" r="5.4"/><circle cx="210.6" cy="1856.6" r="5.4"/><circle cx="228.3" cy="1774.5" r="5.4"/><circle cx="240.1" cy="1799.9" r="5.4"/></g>
<g><circle cx="394.7" cy="1715.9" r="5.4"/><circle cx="395.8" cy="1760.7" r="5.4"/><circle cx="398.7" cy="1765.2" r="5.4"/><circle cx="369.0" cy="1768.3" r="5.4"/><circle cx="382.4" cy="1772.8" r="5.4"/><circle cx="442.7" cy="1767.2" r="5.4"/><circle cx="449.0" cy="1771.9" r="5.4"/><circle cx="485.6" cy="1769.0" r="5.4"/><circle cx="465.1" cy="1774.2" r="5.4"/><circle cx="432.7" cy="1777.9" r="5.4"/><circle cx="395.8" cy="1780.2" r="5.4"/><circle cx="400.3" cy="1780.2" r="5.4"/><circle cx="413.7" cy="1779.7" r="5.4"/><circle cx="417.0" cy="1786.4" r="5.4"/><circle cx="447.9" cy="1786.9" r="5.4"/><circle cx="384.6" cy="1787.3" r="5.4"/><circle cx="468.9" cy="1792.5" r="5.4"/><circle cx="480.0" cy="1801.4" r="5.4"/><circle cx="346.7" cy="1779.7" r="5.4"/><circle cx="351.1" cy="1783.5" r="5.4"/><circle cx="356.7" cy="1787.3" r="5.4"/><circle cx="365.7" cy="1786.9" r="5.4"/><circle cx="367.9" cy="1797.4" r="5.4"/><circle cx="336.0" cy="1793.6" r="5.4"/><circle cx="344.4" cy="1794.7" r="5.4"/><circle cx="340.0" cy="1798.5" r="5.4"/><circle cx="345.6" cy="1800.3" r="5.4"/><circle cx="325.9" cy="1804.8" r="5.4"/><circle cx="393.6" cy="1795.4" r="5.4"/><circle cx="398.7" cy="1798.5" r="5.4"/><circle cx="402.5" cy="1794.7" r="5.4"/><circle cx="308.3" cy="1797.6" r="5.4"/><circle cx="310.5" cy="1824.4" r="5.4"/><circle cx="389.1" cy="1819.9" r="5.4"/><circle cx="351.6" cy="1822.0" r="5.4"/><circle cx="352.3" cy="1833.1" r="5.4"/><circle cx="348.2" cy="1856.6" r="5.4"/><circle cx="447.6" cy="1776.3" r="5.4"/></g>
<g><circle cx="135.1" cy="1908.3" r="5.4"/><circle cx="277.0" cy="1914.1" r="5.4"/><circle cx="215.1" cy="1916.1" r="5.4"/><circle cx="212.2" cy="1922.8" r="5.4"/><circle cx="260.7" cy="1923.9" r="5.4"/><circle cx="199.9" cy="1927.5" r="5.4"/><circle cx="241.7" cy="1926.8" r="5.4"/><circle cx="245.3" cy="1929.1" r="5.4"/><circle cx="185.8" cy="1934.2" r="5.4"/><circle cx="228.3" cy="1935.8" r="5.4"/><circle cx="260.7" cy="1938.0" r="5.4"/><circle cx="250.2" cy="1940.2" r="5.4"/><circle cx="239.0" cy="1942.5" r="5.4"/><circle cx="252.9" cy="1949.2" r="5.4"/><circle cx="207.7" cy="1941.4" r="5.4"/><circle cx="173.8" cy="1942.0" r="5.4"/><circle cx="137.4" cy="1943.6" r="5.4"/><circle cx="185.8" cy="1956.3" r="5.4"/><circle cx="192.1" cy="1962.6" r="5.4"/><circle cx="199.9" cy="1969.7" r="5.4"/><circle cx="221.8" cy="1958.1" r="5.4"/><circle cx="239.0" cy="1962.6" r="5.4"/><circle cx="239.0" cy="1971.5" r="5.4"/><circle cx="242.4" cy="1980.9" r="5.4"/><circle cx="229.0" cy="1968.2" r="5.4"/><circle cx="222.9" cy="1973.1" r="5.4"/><circle cx="273.6" cy="1961.9" r="5.4"/><circle cx="275.4" cy="1965.3" r="5.4"/><circle cx="295.3" cy="1962.6" r="5.4"/><circle cx="170.4" cy="1966.6" r="5.4"/><circle cx="159.0" cy="1968.6" r="5.4"/><circle cx="208.4" cy="1980.9" r="5.4"/><circle cx="156.8" cy="1989.4" r="5.4"/><circle cx="256.2" cy="1989.4" r="5.4"/><circle cx="239.0" cy="1993.2" r="5.4"/><circle cx="112.4" cy="1997.7" r="5.4"/><circle cx="132.9" cy="1999.4" r="5.4"/><circle cx="188.1" cy="2003.2" r="5.4"/><circle cx="270.7" cy="1998.3" r="5.4"/><circle cx="277.0" cy="2002.1" r="5.4"/><circle cx="234.1" cy="2005.5" r="5.4"/><circle cx="240.1" cy="2004.6" r="5.4"/><circle cx="245.3" cy="2005.0" r="5.4"/><circle cx="250.6" cy="2005.5" r="5.4"/><circle cx="210.6" cy="2011.7" r="5.4"/></g>
<g><circle cx="395.8" cy="1908.3" r="5.4"/><circle cx="394.7" cy="1915.2" r="5.4"/><circle cx="384.0" cy="1916.1" r="5.4"/><circle cx="382.0" cy="1923.5" r="5.4"/><circle cx="413.7" cy="1923.9" r="5.4"/><circle cx="345.6" cy="1927.3" r="5.4"/><circle cx="369.0" cy="1927.3" r="5.4"/><circle cx="448.8" cy="1929.1" r="5.4"/><circle cx="447.6" cy="1941.8" r="5.4"/><circle cx="465.1" cy="1933.5" r="5.4"/><circle cx="469.5" cy="1938.0" r="5.4"/><circle cx="485.6" cy="1935.8" r="5.4"/><circle cx="416.6" cy="1940.7" r="5.4"/><circle cx="348.9" cy="1942.5" r="5.4"/><circle cx="367.4" cy="1943.2" r="5.4"/><circle cx="395.8" cy="1941.8" r="5.4"/><circle cx="400.3" cy="1948.7" r="5.4"/><circle cx="400.3" cy="1956.3" r="5.4"/><circle cx="403.6" cy="1959.2" r="5.4"/><circle cx="388.7" cy="1957.0" r="5.4"/><circle cx="308.3" cy="1962.6" r="5.4"/><circle cx="357.8" cy="1961.9" r="5.4"/><circle cx="351.6" cy="1964.4" r="5.4"/><circle cx="353.4" cy="1972.0" r="5.4"/><circle cx="336.0" cy="1972.0" r="5.4"/><circle cx="341.1" cy="1976.0" r="5.4"/><circle cx="433.1" cy="1968.6" r="5.4"/><circle cx="480.3" cy="1968.6" r="5.4"/><circle cx="325.9" cy="1981.6" r="5.4"/><circle cx="365.7" cy="1980.5" r="5.4"/><circle cx="442.3" cy="1989.8" r="5.4"/><circle cx="343.8" cy="1988.9" r="5.4"/><circle cx="345.6" cy="1997.7" r="5.4"/><circle cx="332.6" cy="1999.0" r="5.4"/><circle cx="333.3" cy="2005.0" r="5.4"/><circle cx="310.5" cy="2001.0" r="5.4"/><circle cx="315.4" cy="2006.1" r="5.4"/><circle cx="352.3" cy="2005.0" r="5.4"/><circle cx="347.8" cy="2011.7" r="5.4"/><circle cx="398.5" cy="1992.3" r="5.4"/><circle cx="393.1" cy="1994.3" r="5.4"/><circle cx="386.9" cy="2003.5" r="5.4"/></g>
<g><circle cx="662.5" cy="1908.4" r="5.4"/><circle cx="727.3" cy="1914.7" r="5.4"/><circle cx="624.8" cy="1916.9" r="5.4"/><circle cx="635.3" cy="1923.6" r="5.4"/><circle cx="634.2" cy="1928.5" r="5.4"/><circle cx="647.1" cy="1922.0" r="5.4"/><circle cx="652.0" cy="1926.5" r="5.4"/><circle cx="646.4" cy="1931.4" r="5.4"/><circle cx="651.4" cy="1935.4" r="5.4"/><circle cx="645.3" cy="1935.9" r="5.4"/><circle cx="617.4" cy="1937.7" r="5.4"/><circle cx="610.7" cy="1943.7" r="5.4"/><circle cx="624.8" cy="1941.5" r="5.4"/><circle cx="629.7" cy="1943.0" r="5.4"/><circle cx="634.6" cy="1941.5" r="5.4"/><circle cx="640.9" cy="1941.5" r="5.4"/><circle cx="634.6" cy="1949.3" r="5.4"/><circle cx="577.9" cy="1956.4" r="5.4"/><circle cx="575.0" cy="1966.5" r="5.4"/><circle cx="612.9" cy="1957.1" r="5.4"/><circle cx="609.6" cy="1962.7" r="5.4"/><circle cx="616.3" cy="1961.6" r="5.4"/><circle cx="624.8" cy="1962.2" r="5.4"/><circle cx="606.2" cy="1968.3" r="5.4"/><circle cx="612.9" cy="1968.3" r="5.4"/><circle cx="619.6" cy="1969.4" r="5.4"/><circle cx="609.6" cy="1975.6" r="5.4"/><circle cx="649.1" cy="1963.4" r="5.4"/><circle cx="635.3" cy="1969.4" r="5.4"/><circle cx="638.6" cy="1967.6" r="5.4"/><circle cx="624.8" cy="1980.6" r="5.4"/><circle cx="600.0" cy="1981.7" r="5.4"/><circle cx="653.1" cy="1989.0" r="5.4"/><circle cx="658.1" cy="1993.5" r="5.4"/><circle cx="614.0" cy="1993.5" r="5.4"/><circle cx="616.3" cy="1997.3" r="5.4"/><circle cx="606.2" cy="1999.1" r="5.4"/><circle cx="610.7" cy="1999.5" r="5.4"/><circle cx="572.1" cy="2002.2" r="5.4"/><circle cx="559.3" cy="2005.6" r="5.4"/><circle cx="524.3" cy="2011.8" r="5.4"/></g>
<rect x="85.9" y="1399.5" width="215.8" height="154.1" fill="#c3c3c3"/>
<rect x="301.7" y="1553.6" width="216.1" height="154.6" fill="#c3c3c3"/>
<rect x="517.8" y="1708.2" width="217.2" height="155.4" fill="#c3c3c3"/>
<rect x="735.0" y="1863.6" width="215.8" height="154.4" fill="#c3c3c3"/>
<path class="ln" d="M85.9 1399.5V2018.0M85.9 2018.0H950.8M85.9 1399.5H301.7M301.7 1399.5V2018.0M85.9 1553.6H517.8M517.8 1553.6V2018.0M85.9 1708.2H735.0M735.0 1708.2V2018.0M85.9 1863.6H950.8M950.8 1863.6V2018.0"/>
<path class="tk" d="M78.4 1560.2H85.9M78.4 1642.7H85.9M78.4 1736.1H85.9M78.4 1786.6H85.9M78.4 1836.4H85.9M78.4 1870.0H85.9M78.4 1944.4H85.9M78.4 2012.4H85.9M90.8 2018.0V2024.0M198.3 2018.0V2024.0M274.0 2018.0V2024.0M393.3 2018.0V2024.0M511.1 2018.0V2024.0M625.6 2018.0V2024.0M696.5 2018.0V2024.0"/>
<text class="ax" transform="translate(73.3 1566.4) scale(1 1.14)" text-anchor="end">500</text>
<text class="ax" transform="translate(73.3 1648.9) scale(1 1.14)" text-anchor="end">50</text>
<text class="ax" transform="translate(73.3 1742.3) scale(1 1.14)" text-anchor="end">100</text>
<text class="ax" transform="translate(73.3 1792.8) scale(1 1.14)" text-anchor="end">10</text>
<text class="ax" transform="translate(73.3 1842.6) scale(1 1.14)" text-anchor="end">1</text>
<text class="ax" transform="translate(73.3 1876.2) scale(1 1.14)" text-anchor="end">20</text>
<text class="ax" transform="translate(73.3 1950.6) scale(1 1.14)" text-anchor="end">10</text>
<text class="ax" transform="translate(73.3 2018.6) scale(1 1.14)" text-anchor="end">1</text>
<text class="ax" transform="translate(92.1 2045.8) scale(1 1.14)" text-anchor="middle">1</text>
<text class="ax" transform="translate(198.6 2045.8) scale(1 1.14)" text-anchor="middle">10</text>
<text class="ax" transform="translate(274.3 2045.8) scale(1 1.14)" text-anchor="middle">50</text>
<text class="ax" transform="translate(393.6 2045.8) scale(1 1.14)" text-anchor="middle">50</text>
<text class="ax" transform="translate(512.6 2045.8) scale(1 1.14)" text-anchor="middle">500</text>
<text class="ax" transform="translate(625.9 2045.8) scale(1 1.14)" text-anchor="middle">10</text>
<text class="ax" transform="translate(698.0 2045.8) scale(1 1.14)" text-anchor="middle">100</text>
<text class="nm" transform="translate(193.8 1471.9) scale(1.04 0.985)">Hepcidin</text>
<text class="nm" transform="translate(193.8 1496.2) scale(1.04 0.985)">(ng/mL)</text>
<text class="nm" transform="translate(409.8 1626.5) scale(1.04 0.985)">EPO</text>
<text class="nm" transform="translate(409.8 1650.8) scale(1.04 0.985)">(IU/L)</text>
<text class="nm" transform="translate(626.4 1781.9) scale(1.04 0.985)">ERFE</text>
<text class="nm" transform="translate(626.4 1806.2) scale(1.04 0.985)">(ng/mL)</text>
<text class="nm" transform="translate(842.9 1936.3) scale(1.04 0.985)">sTfR</text>
<text class="nm" transform="translate(842.9 1960.6) scale(1.04 0.985)">(mg/mL)</text>
<text class="cr" transform="translate(88.6 1574.9) scale(1 1.03)" text-anchor="start">-0.08</text>
<text class="cr" transform="translate(90.3 1728.7) scale(1 1.03)" text-anchor="start">0.11</text>
<text class="cr" transform="translate(90.3 1886.7) scale(1 1.03)" text-anchor="start">-0.03</text>
<text class="cr" transform="translate(306.1 1731.2) scale(1 1.03)" text-anchor="start">0.54<tspan dy="-2.4">**</tspan></text>
<text class="cr" transform="translate(308.6 1886.7) scale(1 1.03)" text-anchor="start">0.50<tspan dy="-2.4">**</tspan></text>
<text class="cr" transform="translate(524.6 1886.7) scale(1 1.03)" text-anchor="start">0.64<tspan dy="-2.4">**</tspan></text>
<text class="lt" x="10.2" y="1447.0">C</text>
</g>
</g>
</svg>
</body></html>
